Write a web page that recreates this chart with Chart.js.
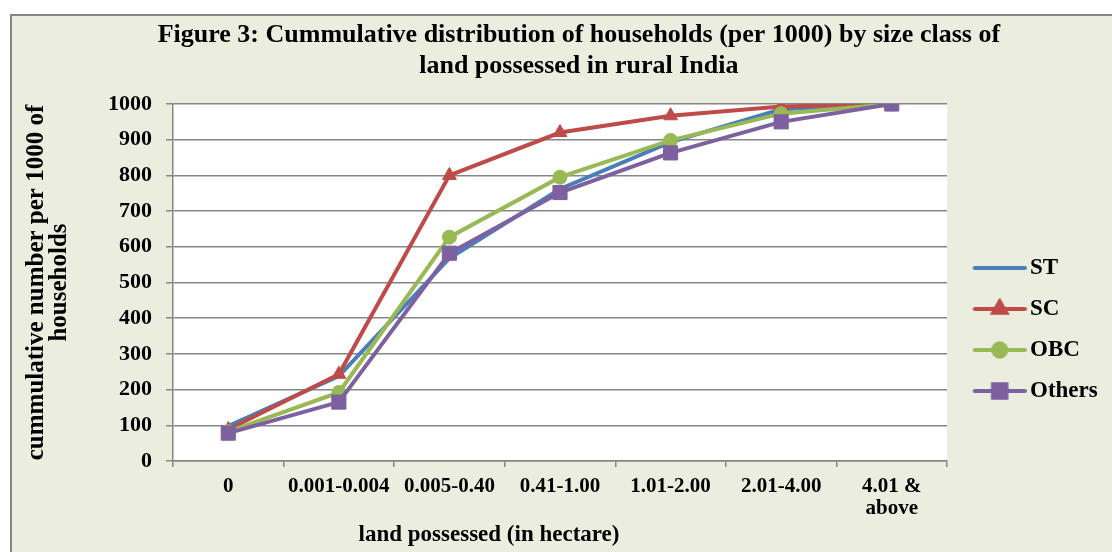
<!DOCTYPE html>
<html>
<head>
<meta charset="utf-8">
<script src="https://cdn.jsdelivr.net/npm/chart.js@4"></script>
<style>
    html, body { margin: 0; padding: 0; background: #fff; }
    #wrap { width: 1112px; height: 552px; overflow: hidden; position: relative; }
    #chart { position: absolute; left: 0; top: 0; }
</style>
</head>
<body>
<div id="wrap"><canvas id="chart" width="1130" height="659"></canvas></div>
<script>
// categories and series values
let categories = ['0', '0.001-0.004', '0.005-0.40', '0.41-1.00', '1.01-2.00', '2.01-4.00', ['4.01 &', 'above']];
let st_values = [98, 238, 568, 762, 893, 985, 1000];
let sc_values = [88, 243, 800, 920, 967, 993, 1000];
let obc_values = [82, 192, 627, 795, 898, 973, 1000];
let others_values = [78, 165, 582, 752, 863, 950, 1000];
let y_ticks = [0, 100, 200, 300, 400, 500, 600, 700, 800, 900, 1000];

let title_lines = ['Figure 3: Cummulative distribution of households (per 1000) by size class of', 'land possessed in rural India'];
let y_title = ['cummulative number per 1000 of', 'households'];
let x_title = 'land possessed (in hectare)';

const FONT = '"Liberation Serif", "Times New Roman", serif';
const GRID = '#868686';
const FRAME_BG = '#EBEEDE';

let series = [
    {label: 'ST', data: st_values, color: '#4A7EBB', style: false, radius: 0, order: 4},
    {label: 'SC', data: sc_values, color: '#BE4B48', style: 'triangle', radius: 8, order: 3},
    {label: 'OBC', data: obc_values, color: '#98B954', style: 'circle', radius: 7, order: 2},
    {label: 'Others', data: others_values, color: '#7D60A0', style: 'rect', radius: 10, order: 1}
];

/**
 * Small picture for the legend: a thick line with the marker in the middle
 */
function legendSymbol(s) {
    let c = document.createElement('canvas');
    c.width = 62;
    c.height = 22;
    let ctx = c.getContext('2d');
    ctx.strokeStyle = s.color;
    ctx.fillStyle = s.color;
    ctx.lineWidth = 4;
    ctx.lineCap = 'round';
    ctx.beginPath();
    ctx.moveTo(10, 11);
    ctx.lineTo(60, 11);
    ctx.stroke();
    if (s.style) {
        Chart.helpers.drawPoint(ctx, {pointStyle: s.style, radius: s.radius * 0.95, borderWidth: 1}, 35, 11);
        ctx.fill();
    }
    return c;
}

// figure frame + white plot background, x axis title
let framePlugin = {
    id: 'frame',
    beforeDraw: function (chart) {
        let ctx = chart.ctx;
        let a = chart.chartArea;
        ctx.save();
        ctx.fillStyle = '#fff';
        ctx.fillRect(0, 0, chart.width, chart.height);
        ctx.fillStyle = FRAME_BG;
        ctx.fillRect(11, 15, chart.width, chart.height);
        ctx.strokeStyle = '#858585';
        ctx.lineWidth = 2;
        ctx.strokeRect(11, 15, chart.width, chart.height);
        ctx.fillStyle = '#fff';
        ctx.fillRect(a.left, a.top, a.right - a.left, a.bottom - a.top);
        ctx.restore();
    },
    afterDraw: function (chart) {
        let ctx = chart.ctx;
        let a = chart.chartArea;
        ctx.save();
        ctx.font = 'bold 23px ' + FONT;
        ctx.fillStyle = '#000';
        ctx.textAlign = 'center';
        ctx.textBaseline = 'middle';
        ctx.fillText(x_title, a.left + 316, a.bottom + 74);
        ctx.restore();
    }
};

window.addEventListener('load', function () {
    // legend width depends on the longest label; right padding puts the plot edge at 947
    let m = document.createElement('canvas').getContext('2d');
    m.font = 'bold 23px ' + FONT;
    let text_w = 0;
    for (let s of series) {
        text_w = Math.max(text_w, m.measureText(s.label).width);
    }
    let legend_w = 18 + 45.5 + 11.5 + text_w + 10;
    let pad_right = 1130 - (955 + legend_w);

    let datasets = series.map(function (s) {
        return {
            label: s.label,
            data: s.data,
            borderColor: s.color,
            backgroundColor: s.color,
            borderWidth: 4,
            tension: 0,
            pointStyle: s.style || 'circle',
            pointRadius: s.radius,
            pointHoverRadius: s.radius,
            pointBorderWidth: 1,
            pointBackgroundColor: s.color,
            pointBorderColor: s.color,
            order: s.order
        };
    });

    let ctx = document.getElementById('chart').getContext('2d');
    let chart = new Chart(ctx, {
        type: 'line',
        data: {
            labels: categories,
            datasets: datasets
        },
        options: {
            responsive: false,
            animation: false,
            devicePixelRatio: 1,
            layout: {padding: {left: 50, right: pad_right, top: 0, bottom: 0}},
            plugins: {
                title: {
                    display: true,
                    text: title_lines,
                    color: '#000',
                    font: {family: FONT, size: 26, weight: 'bold', lineHeight: '31px'},
                    padding: {top: 19.5, bottom: 22.5}
                },
                legend: {
                    position: 'right',
                    labels: {
                        usePointStyle: true,
                        pointStyleWidth: 45.5,
                        padding: 18,
                        color: '#000',
                        font: {family: FONT, size: 23, weight: 'bold'},
                        generateLabels: function (chart) {
                            return series.map(function (s, i) {
                                return {
                                    text: s.label,
                                    pointStyle: legendSymbol(s),
                                    fillStyle: s.color,
                                    strokeStyle: s.color,
                                    lineWidth: 0,
                                    fontColor: '#000',
                                    hidden: false,
                                    datasetIndex: i
                                };
                            });
                        }
                    }
                },
                tooltip: {enabled: false}
            },
            scales: {
                x: {
                    offset: true,
                    grid: {display: true, drawOnChartArea: false, offset: true, tickLength: 6, color: GRID, lineWidth: 1.5},
                    border: {display: true, color: GRID, width: 1.5},
                    ticks: {color: '#000', padding: 9, maxRotation: 0, autoSkip: false,
                        font: {family: FONT, size: 21, weight: 'bold', lineHeight: '22px'}},
                    afterFit: function (s) { s.height = 198; }
                },
                y: {
                    min: 0,
                    max: 1000,
                    afterBuildTicks: function (s) { s.ticks = y_ticks.map(function (v) { return {value: v}; }); },
                    grid: {color: GRID, lineWidth: 1.5, tickLength: 7},
                    border: {display: true, color: GRID, width: 1.5},
                    ticks: {
                        color: '#000',
                        padding: 14,
                        font: {family: FONT, size: 22, weight: 'bold'},
                        callback: function (v) { return String(v); }
                    },
                    title: {
                        display: true,
                        text: y_title,
                        color: '#000',
                        font: {family: FONT, size: 25, weight: 'bold', lineHeight: '23px'},
                        padding: {top: -24.5, bottom: 0}
                    },
                    afterFit: function (s) { s.width = 123; }
                },
                // thin empty box between plot and legend
                gap: {
                    position: 'right',
                    display: true,
                    grid: {display: false},
                    border: {display: false},
                    ticks: {display: false},
                    afterFit: function (s) { s.width = 8; }
                }
            }
        },
        plugins: [framePlugin]
    });
});
</script>
</body>
</html>
